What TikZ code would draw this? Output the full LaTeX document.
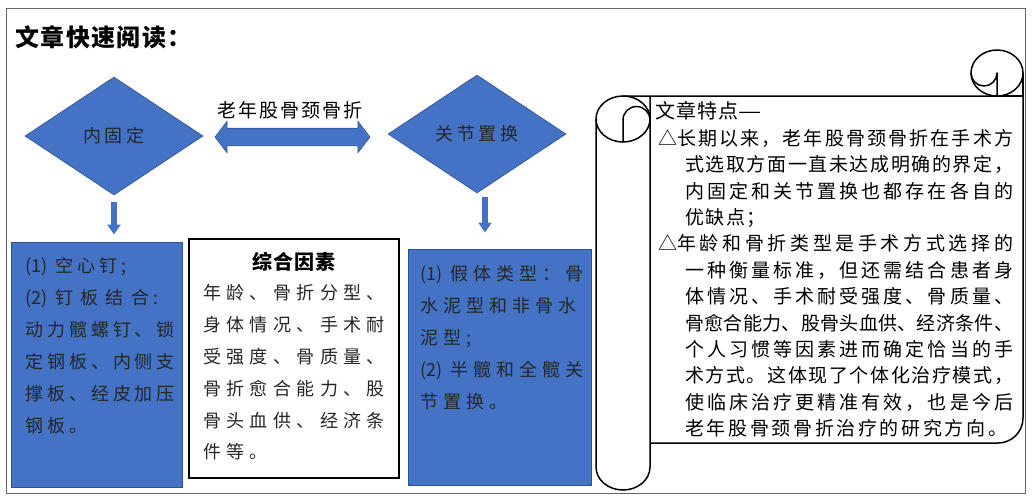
\documentclass[tikz,border=0pt]{standalone}
\usepackage{fontspec}
\setmainfont{Noto Sans CJK SC}
\usetikzlibrary{shapes.geometric, shapes.arrows, arrows.meta, positioning}
\definecolor{boxblue}{HTML}{4472C4}
\definecolor{boxedge}{HTML}{2F528F}
% stretchable glue between Chinese characters, used to justify lines
\newXeTeXintercharclass\hanclass
\makeatletter
\count@="4E00
\loop\ifnum\count@<"A000 \XeTeXcharclass\count@=\hanclass \advance\count@ by 1 \repeat
\makeatother
\XeTeXcharclass"3001=\hanclass
\XeTeXcharclass"3002=\hanclass
\XeTeXcharclass"FF0C=\hanclass
\XeTeXcharclass"FF1A=\hanclass
\XeTeXcharclass"FF1B=\hanclass
\XeTeXinterchartoks\hanclass\hanclass = {\hskip 0pt plus 3pt}
\newcommand{\enumnum}[1]{{\addfontfeature{LetterSpace=0}(#1)}\hspace{8pt}}
\newcommand{\fullline}[2]{\makebox[#1][s]{\XeTeXinterchartokenstate=1 #2}}

\begin{document}
\begin{tikzpicture}[x=1pt, y=-1pt,
    choice/.style={diamond, draw=boxedge, fill=boxblue, line width=0.6pt, minimum width=178pt, minimum height=118pt, inner sep=0pt, text=black!85, font=\fontsize{18}{22}\selectfont\addfontfeature{LetterSpace=20}},
    bluebox/.style={rectangle, draw=boxedge, fill=boxblue, line width=1pt},
    boxtext/.style={anchor=base west, inner sep=0pt, align=left, text width=220pt, text=black!85},
    downarr/.style={boxblue, line width=6pt, -{Triangle[width=13pt,length=10pt]}},
    scroll/.style={black, line width=1.5pt, line join=round}]
          \useasboundingbox (0,0) rectangle (1033,499);
          \draw [black!60, line width=0.8pt] (6,8) rectangle (1025,493); % outer frame

          \node [anchor=base west, inner sep=0pt, font=\fontsize{24}{28}\selectfont\bfseries\addfontfeature{LetterSpace=6}] (title) at (15,46) {文章快速阅读：};

          \node [choice] (fix) at (114,136) {内固定};
          \node [choice] (rep) at (477,134) {关节置换};

          \node [double arrow, draw=boxedge, fill=boxblue, line width=0.6pt, inner xsep=0pt, inner ysep=8.5pt, minimum height=155pt, minimum width=31pt, double arrow head extend=7pt, double arrow tip angle=105] (link) at (292.5,137) {};
          \node [inner sep=0pt, font=\fontsize{19}{22}\selectfont\addfontfeature{LetterSpace=11}] (topic) at (290,110) {老年股骨颈骨折};

          \node [bluebox, minimum width=171pt, minimum height=245pt] (fixbox) at (96.5,364.5) {};
          \node [rectangle, draw=black, line width=1.2pt, fill=white, minimum width=210pt, minimum height=239pt] (factbox) at (294,358.5) {};
          \node [bluebox, minimum width=183pt, minimum height=236pt] (repbox) at (499.5,367) {};

          \draw [downarr, shorten <=7pt, shorten >=7pt] (fix.south) -- (fix.south |- fixbox.north);
          \draw [downarr, shorten <=4pt, shorten >=16pt] ([xshift=8pt]rep.south) -- ([xshift=8pt]rep.south |- repbox.north);

          \node [boxtext, font=\fontsize{18}{32}\selectfont\addfontfeature{LetterSpace=22}] (fixtext) at (25,272) {\enumnum{1}空心钉;\\\fullline{133pt}{\enumnum{2}钉板结合:}\\动力髋螺钉、锁\\定钢板、内侧支\\撑板、经皮加压\\钢板。};
          \node [anchor=base, inner sep=0pt, font=\fontsize{20}{24}\selectfont\bfseries\addfontfeature{LetterSpace=6}] (facthead) at (294,269.6) {综合因素};
          \node [boxtext, font=\fontsize{18}{31.8}\selectfont\addfontfeature{LetterSpace=30}] (facttext) at (203,299.8) {年龄、骨折分型、\\身体情况、手术耐\\受强度、骨质量、\\骨折愈合能力、股\\骨头血供、经济条\\件等。};
          \node [boxtext, font=\fontsize{18}{32.2}\selectfont\addfontfeature{LetterSpace=28}] (reptext) at (420,280) {\enumnum{1}假体类型：骨\\水泥型和非骨水\\泥型;\\\enumnum{2}半髋和全髋关\\节置换。};

          % scroll body
          \draw [scroll, fill=white] (623,96) -- (997,96) -- (1023,73) -- (1023,418) arc [start angle=0, end angle=90, radius=25] -- (650,443) -- (650,96) -- cycle;
          \draw [scroll, fill=white] (1023,73) -- (1023,96) -- (997,96);
          \draw [scroll, fill=white] (997,73) ellipse [x radius=26, y radius=23]; % top roll
          \draw [scroll] (971,73) arc [start angle=180, end angle=0, radius=13] -- (997,96);
          \draw [scroll, fill=white] (596,119) -- (596,467) arc [start angle=180, end angle=0, x radius=27, y radius=23] -- (650,119); % left roll
          \draw [scroll, fill=white] (623,119) ellipse [x radius=27, y radius=23];
          \draw [scroll] (623,142) -- (623,120) arc [start angle=180, end angle=360, radius=13.5];

          \node [anchor=base west, inner sep=0pt, font=\fontsize{20}{24}\selectfont\addfontfeature{LetterSpace=5}] (notehead) at (655,118.6) {文章特点\scalebox{1.3}[1]{—}};
          \node [boxtext, text width=380pt, text=black, font=\fontsize{19}{26.4}\selectfont] (notetext) at (658,145.2) {\fullline{355pt}{△长期以来，老年股骨颈骨折在手术方}\\\hspace*{27pt}\fullline{328pt}{式选取方面一直未达成明确的界定，}\\\hspace*{27pt}\fullline{328pt}{内固定和关节置换也都存在各自的}\\\hspace*{27pt}{\addfontfeature{LetterSpace=8}优缺点；}\\\fullline{355pt}{△年龄和骨折类型是手术方式选择的}\\\hspace*{27pt}\fullline{328pt}{一种衡量标准，但还需结合患者身}\\\hspace*{27pt}\fullline{328pt}{体情况、手术耐受强度、骨质量、}\\\hspace*{27pt}\fullline{328pt}{骨愈合能力、股骨头血供、经济条件、}\\\hspace*{27pt}\fullline{328pt}{个人习惯等因素进而确定恰当的手}\\\hspace*{27pt}\fullline{328pt}{术方式。这体现了个体化治疗模式，}\\\hspace*{27pt}\fullline{328pt}{使临床治疗更精准有效，也是今后}\\\hspace*{27pt}\fullline{322pt}{老年股骨颈骨折治疗的研究方向。}};
        \end{tikzpicture}
\end{document}
